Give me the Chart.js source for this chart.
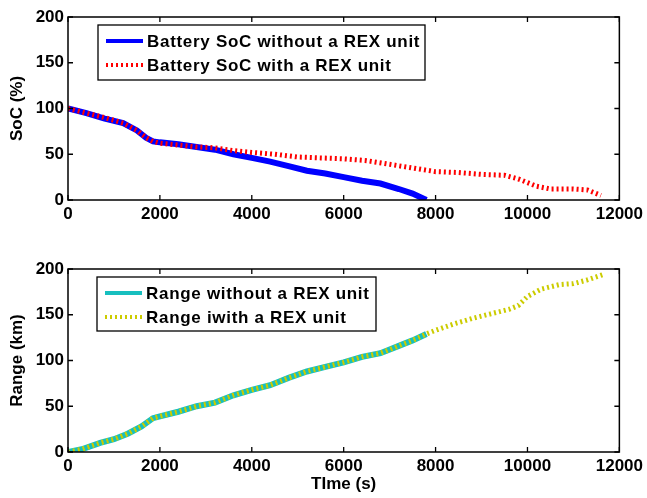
<!DOCTYPE html>
<html>
<head>
<meta charset="utf-8">
<script src="https://cdn.jsdelivr.net/npm/chart.js@4/dist/chart.umd.min.js"></script>
<style>
  body { margin: 0; background: #fff; }
  canvas { position: absolute; left: 0; }
  #socChart { top: 0; }
  #rangeChart { top: 240px; }
</style>
</head>
<body>
<canvas id="socChart" width="647" height="240"></canvas>
<canvas id="rangeChart" width="647" height="258"></canvas>
<script>
// dati
let socTimeNoRex = [0,400,800,1200,1500,1700,1850,2000,2400,2800,3200,3600,4000,4400,4800,5200,5600,6000,6400,6800,7200,7500,7800];
let socNoRex     = [100,95,89,84,76,68,64,63,61,58,55,50,46,42,37,32,29,25,21,18,12,7,0];
let socTimeRex = [0,400,800,1200,1500,1700,1850,2000,2400,2800,3200,3600,4000,4500,5000,5500,6000,6500,7000,7500,8000,8500,9000,9500,9800,10200,10500,11000,11300,11600];
let socRex     = [100,95,90,84,76,68,64,62,60,58,57,54,52,50,47,46,45,43,39,35,31,30,28,27,23,15,12,12,11,5];

let rangeTimeNoRex = [0,300,700,1000,1300,1600,1850,2000,2400,2800,3200,3600,4000,4400,4800,5200,5600,6000,6400,6800,7200,7500,7800];
let rangeNoRex     = [0,3,10,14,20,28,37,39,44,50,54,62,68,73,81,88,93,98,104,108,116,122,129];
let rangeTimeRex = [0,300,700,1000,1300,1600,1850,2000,2400,2800,3200,3600,4000,4400,4800,5200,5600,6000,6400,6800,7200,7500,7800,8000,8400,8800,9200,9600,9800,10000,10300,10700,11000,11300,11650];
let rangeRex     = [0,3,10,14,20,28,37,39,44,50,54,62,68,73,81,88,93,98,104,108,116,122,129,133,140,146,151,156,160,170,178,183,184,188,194];

let xTicks = [0,2000,4000,6000,8000,10000,12000];
let yTicks = [0,50,100,150,200];

const fontBold = { family: "'Liberation Sans', Arial, sans-serif", size: 17, weight: 'bold', lineHeight: 1.2 };

function punti(xs, ys){
    let ar = [];
    for(let i = 0; i < xs.length; i++){
        ar.push({x: xs[i], y: ys[i]});
    }
    return ar;
}

// box, tacche verso l'interno e legenda stile matlab
const matlabPlugin = {
    id: 'matlab',
    afterDraw(chart, args, opts){
        const c = chart.ctx;
        const a = chart.chartArea;
        const sx = chart.scales.x, sy = chart.scales.y;
        c.save();
        c.strokeStyle = '#000';
        c.lineWidth = 1.3;
        c.beginPath();
        xTicks.forEach(function(t){
            let px = sx.getPixelForValue(t);
            c.moveTo(px, a.bottom); c.lineTo(px, a.bottom - 5);
            c.moveTo(px, a.top); c.lineTo(px, a.top + 5);
        });
        yTicks.forEach(function(t){
            let py = sy.getPixelForValue(t);
            c.moveTo(a.left, py); c.lineTo(a.left + 5, py);
            c.moveTo(a.right, py); c.lineTo(a.right - 5, py);
        });
        c.stroke();
        c.lineWidth = 1.5;
        c.strokeRect(a.left, a.top, a.right - a.left, a.bottom - a.top);

        // legenda
        const b = opts.box;
        c.fillStyle = '#fff';
        c.fillRect(b[0], b[1], b[2] - b[0], b[3] - b[1]);
        c.lineWidth = 1.3;
        c.strokeRect(b[0], b[1], b[2] - b[0], b[3] - b[1]);
        c.font = 'bold 17px "Liberation Sans", Arial, sans-serif';
        c.letterSpacing = '0.7px';
        c.textBaseline = 'middle';
        chart.data.datasets.forEach(function(ds, i){
            let yy = opts.rows[i];
            c.beginPath();
            c.strokeStyle = ds.borderColor;
            c.lineWidth = 4;
            c.lineCap = 'butt';
            c.setLineDash(ds.borderDash || []);
            c.moveTo(b[0] + 8, yy); c.lineTo(b[0] + 45, yy);
            c.stroke();
            c.setLineDash([]);
            c.fillStyle = '#000';
            c.fillText(ds.label, b[0] + 49, yy + 1);
        });
        c.restore();
    }
};

function creaChart(id, ds, yTitle, xTitle, topPad, xHeight, legenda){
    new Chart(document.getElementById(id), {
        type: 'line',
        data: { datasets: ds },
        options: {
            responsive: false,
            animation: false,
            layout: { padding: { left: 0, right: 27, top: topPad, bottom: 0 } },
            plugins: {
                legend: { display: false },
                tooltip: { enabled: false },
                matlab: legenda
            },
            elements: { point: { radius: 0 }, line: { tension: 0 } },
            scales: {
                x: {
                    type: 'linear', min: 0, max: 12000,
                    afterBuildTicks: function(s){ s.ticks = xTicks.map(function(v){ return {value: v}; }); },
                    afterFit: function(s){ s.height = xHeight; },
                    grid: { display: false, drawTicks: false },
                    border: { display: false },
                    ticks: { color: '#000', font: fontBold, padding: 4, maxRotation: 0, autoSkip: false, callback: function(v){ return String(v); } },
                    title: { display: !!xTitle, text: xTitle, color: '#000', font: fontBold, padding: { top: 0, bottom: 3 } }
                },
                y: {
                    min: 0, max: 200,
                    afterBuildTicks: function(s){ s.ticks = yTicks.map(function(v){ return {value: v}; }); },
                    afterFit: function(s){ s.width = 68; },
                    grid: { display: false, drawTicks: false },
                    border: { display: false },
                    ticks: { color: '#000', font: fontBold, padding: 4, callback: function(v){ return String(v); } },
                    title: { display: true, text: yTitle, color: '#000', font: fontBold, padding: { top: 7, bottom: 0 } }
                }
            }
        },
        plugins: [matlabPlugin]
    });
}

creaChart('socChart', [
    { label: 'Battery SoC without a REX unit', data: punti(socTimeNoRex, socNoRex), borderColor: '#0000ff', borderWidth: 6, order: 1 },
    { label: 'Battery SoC with a REX unit', data: punti(socTimeRex, socRex), borderColor: '#ff0000', borderWidth: 5, borderDash: [2, 3], order: 0 }
], 'SoC (%)', '', 17, 40, { box: [98, 25, 425, 80], rows: [41, 65] });

creaChart('rangeChart', [
    { label: 'Range without a REX unit', data: punti(rangeTimeNoRex, rangeNoRex), borderColor: '#17bfbf', borderWidth: 6, order: 1 },
    { label: 'Range iwith a REX unit', data: punti(rangeTimeRex, rangeRex), borderColor: '#cccc00', borderWidth: 5, borderDash: [2, 3], order: 0 }
], 'Range (km)', 'TIme (s)', 29, 46, { box: [97, 37, 376, 91], rows: [53, 77] });
</script>
</body>
</html>
